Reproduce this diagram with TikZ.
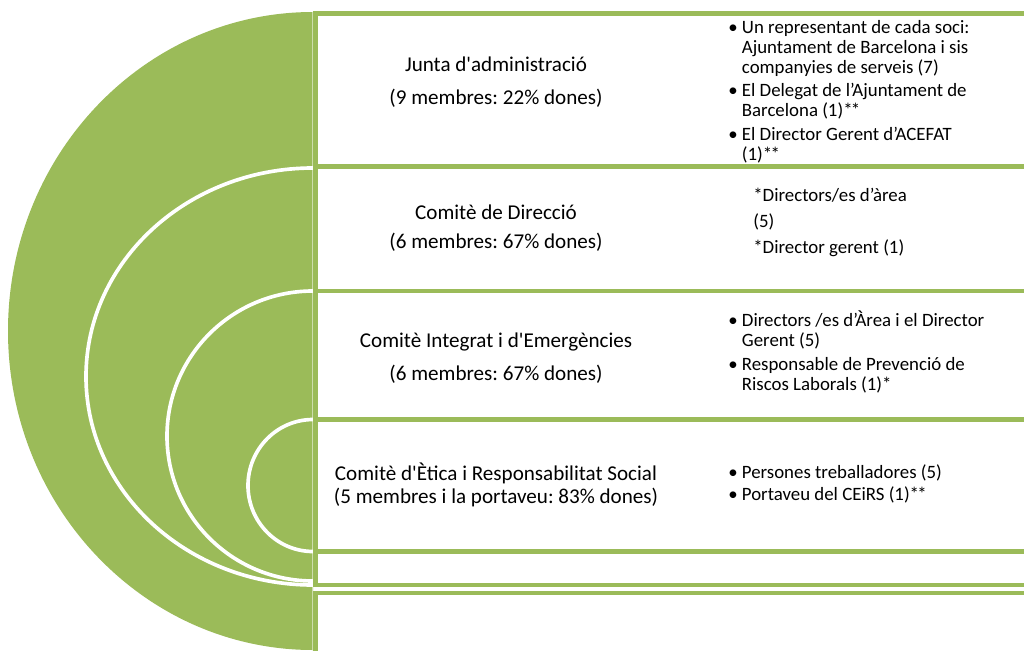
\documentclass[tikz,border=0pt]{standalone}
\usepackage{fontspec}
\setmainfont{Carlito}
\definecolor{leafgreen}{HTML}{9BBB59}
\newcommand{\bul}{\makebox[9.7pt][l]{\textbullet}}
\newcommand{\twostar}{*\kern-1.2pt*}
\frenchspacing

\begin{document}
\begin{tikzpicture}[x=0.025cm,y=-0.025cm,
    panel/.style={draw=leafgreen,line width=3.5pt},
    ring/.style={draw=white,line width=2.6pt},
    headtext/.style={anchor=base,inner sep=0pt,font=\fontsize{15}{16.4}\selectfont},
    listtext/.style={anchor=base west,inner sep=0pt,font=\fontsize{13.4}{14.2}\selectfont}]

    \useasboundingbox (0,0) rectangle (1024,650);
    \clip (0,0) rectangle (1024,650);

    \fill[leafgreen] (313,12) arc[start angle=270,end angle=90,x radius=305,y radius=319] -- cycle;
    \draw[ring] (313,168) arc[start angle=270,end angle=90,x radius=227,y radius=208.5];
    \draw[ring] (313,291) arc[start angle=270,end angle=90,x radius=146,y radius=145];
    \draw[ring] (313,419.5) arc[start angle=270,end angle=90,x radius=65,y radius=66];
    \draw[white,opacity=0.5,line width=0.4pt] (312.5,12) -- (312.5,650);

    \draw[panel] (315.5,13.3) rectangle (1040,166.5);
    \draw[panel] (315.5,166.5) rectangle (1040,291);
    \draw[panel] (315.5,291) rectangle (1040,419.5);
    \draw[panel] (315.5,419.5) rectangle (1040,551.5);
    \draw[panel] (315.5,551.5) rectangle (1040,585);
    \draw[panel] (315.5,593) rectangle (1040,670);

    \node[headtext] (junta) at (496,71) {\begin{tabular}[t]{@{}c@{}}
        Junta d\textquotesingle administració\\[7.1pt] (9 membres: 22\% dones)\end{tabular}};
    \node[headtext] (direccio) at (496,219) {\begin{tabular}[t]{@{}c@{}}
        Comitè de Direcció\\[4.9pt] (6 membres: 67\% dones)\end{tabular}};
    \node[headtext] (integrat) at (496,347) {\begin{tabular}[t]{@{}c@{}}
        Comitè Integrat i d\textquotesingle Emergències\\[7.1pt] (6 membres: 67\% dones)\end{tabular}};
    \node[headtext] (etica) at (496,480) {\begin{tabular}[t]{@{}c@{}}
        Comitè d\textquotesingle Ètica i Responsabilitat Social\\ (5 membres i la portaveu: 83\% dones)\end{tabular}};

    \node[listtext] (juntallista) at (728,33.3) {\begin{tabular}[t]{@{}l@{}l@{}}
        \bul & Un representant de cada soci:\\
             & Ajuntament de Barcelona i sis\\
             & companyies de serveis (7)\\[2.5pt]
        \bul & El Delegat de l’Ajuntament de\\
             & Barcelona (1)\twostar\\[2.5pt]
        \bul & El Director Gerent d’ACEFAT\\
             & (1)\twostar\end{tabular}};
    \node[listtext] (direcciollista) at (753,201.7) {\begin{tabular}[t]{@{}l@{}}
        *Directors/es d’àrea\\[4.3pt] (5)\\[4.3pt] *Director gerent (1)\end{tabular}};
    \node[listtext] (integratllista) at (728,326.7) {\begin{tabular}[t]{@{}l@{}l@{}}
        \bul & Directors /es d’Àrea i el Director\\
             & Gerent (5)\\[2.5pt]
        \bul & Responsable de Prevenció de\\
             & Riscos Laborals (1)*\end{tabular}};
    \node[listtext] (eticallista) at (728,478) {\begin{tabular}[t]{@{}l@{}l@{}}
        \bul & Persones treballadores (5)\\[1.5pt]
        \bul & Portaveu del CEiRS (1)\twostar\end{tabular}};

\end{tikzpicture}
\end{document}
